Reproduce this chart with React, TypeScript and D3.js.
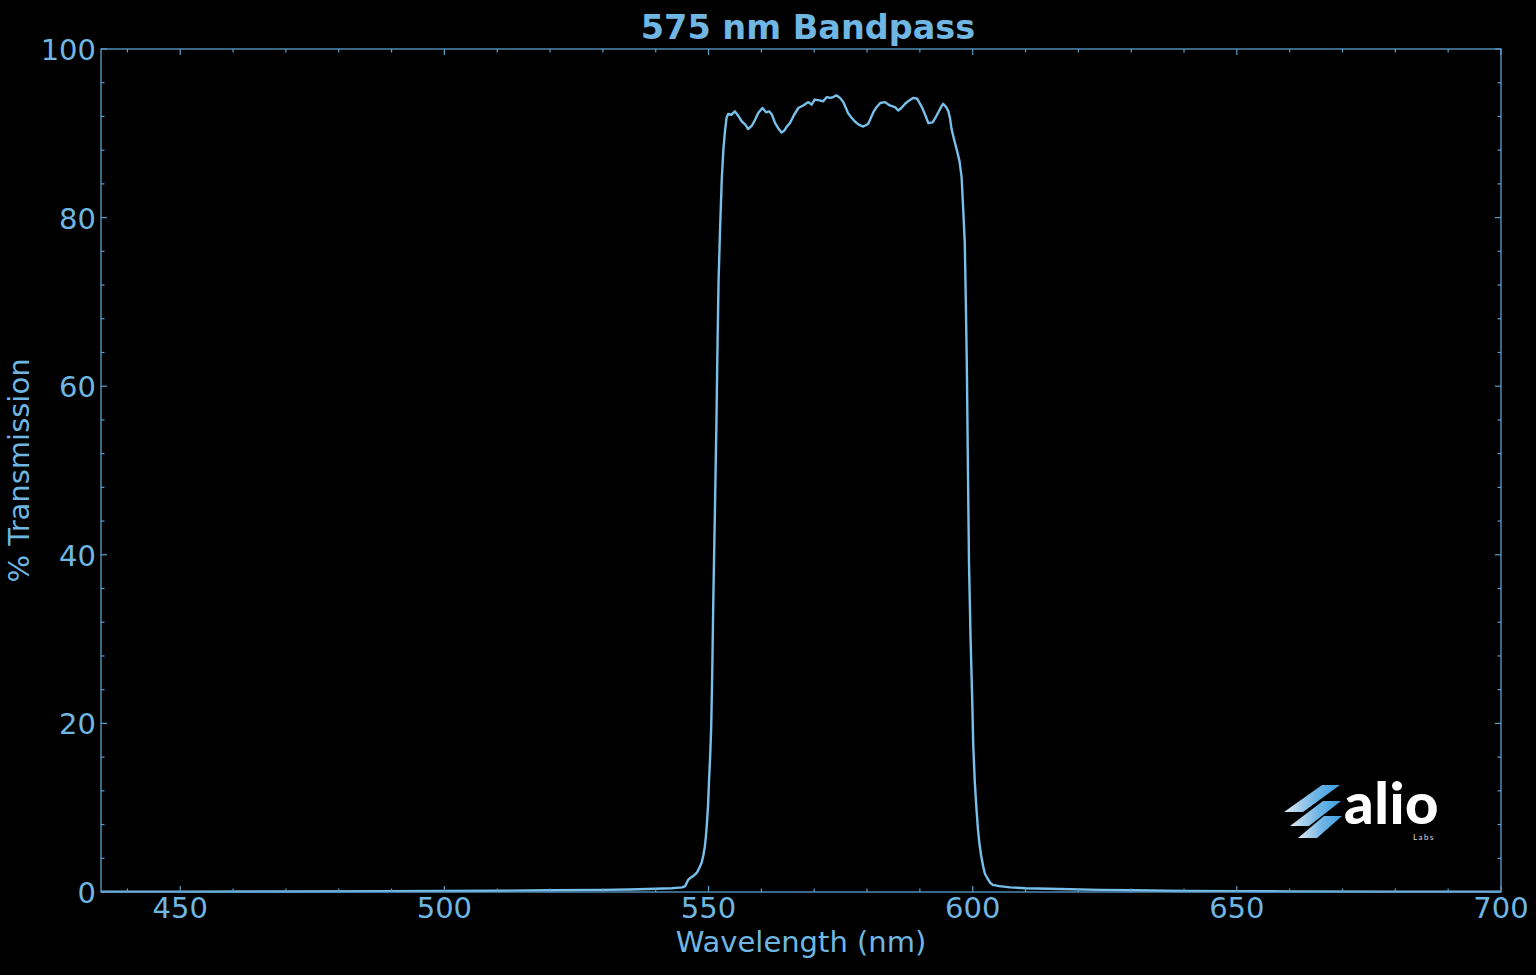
import { useEffect, useRef } from "react";
import * as d3 from "d3";

const WAVELENGTH = [
  435, 450, 470, 490, 500, 510, 520, 530, 535, 540, 543, 545, 545.6, 546.1, 546.6, 547.3, 547.8,
  548.3, 548.7, 549.0, 549.3, 549.5, 549.7, 549.9, 550.1, 550.3, 550.5, 550.7, 550.9, 551.2, 551.5,
  551.7, 551.9, 552.2, 552.5, 552.8, 553.1, 553.4, 553.7, 554.3, 555.0, 555.7, 556.3, 557.0, 557.5,
  558.2, 558.8, 559.4, 560.2, 560.9, 561.5, 562.0, 562.6, 563.2, 563.8, 564.3, 564.8, 565.4, 566.2,
  567.0, 567.9, 568.9, 569.5, 570.1, 571.0, 571.7, 572.4, 573.0, 573.6, 574.2, 574.9, 575.5, 576.0,
  576.4, 577.0, 577.7, 578.5, 579.3, 580.2, 580.7, 581.2, 581.8, 582.5, 583.4, 584.3, 585.3, 585.9,
  586.5, 587.2, 588.0, 588.7, 589.5, 590.3, 591.0, 591.6, 592.4, 593.0, 593.5, 594.0, 594.4, 595.0,
  595.4, 595.7, 596.0, 596.5, 597.0, 597.5, 597.9, 598.2, 598.5, 598.7, 598.9, 599.1, 599.3, 599.6,
  599.9, 600.1, 600.4, 600.7, 601.0, 601.3, 601.6, 602.0, 602.3, 602.8, 603.3, 603.8, 605, 607.1,
  610, 616.5, 624, 630, 640, 650, 660, 680, 700,
];

const TRANSMISSION = [
  0.05, 0.05, 0.06, 0.1, 0.12, 0.15, 0.2, 0.25, 0.3, 0.38, 0.45, 0.55, 0.7, 1.4, 1.7, 2.0, 2.3,
  2.9, 3.5, 4.3, 5.4, 6.6, 8.2, 10.2, 13.3, 16, 19.5, 26, 34.6, 45, 56,
  65, 72.6, 79, 84.5, 88, 90.2, 91.8, 92.3, 92.2, 92.6, 92.0, 91.4, 91.0, 90.5,
  90.9, 91.6, 92.4, 93.0, 92.5, 92.6, 92.2, 91.2, 90.6, 90.1, 90.3, 90.8, 91.2, 92.2,
  93.0, 93.3, 93.7, 93.4, 94.0, 93.9, 93.8, 94.3, 94.2, 94.3, 94.5, 94.2, 93.7, 93.0,
  92.4, 91.9, 91.4, 91.0, 90.8, 91.1, 91.8, 92.5, 93.1, 93.6, 93.7, 93.3, 93.1, 92.7,
  93.0, 93.5, 93.9, 94.2, 94.1, 93.2, 92.2, 91.2, 91.3, 91.9, 92.5, 93.1, 93.5, 93.1,
  92.6, 91.8, 90.5, 89.2, 88.0, 86.7, 84.8, 81, 77, 70, 62, 50, 39, 30,
  23, 17.5, 13, 10, 7.4, 5.6, 4.3, 3.0, 2.2, 1.6, 1.1, 0.85, 0.7, 0.55,
  0.45, 0.35, 0.25, 0.2, 0.12, 0.1, 0.08, 0.05, 0.05,
];

const X_MAJOR = [450, 500, 550, 600, 650, 700];
const Y_MAJOR = [0, 20, 40, 60, 80, 100];

const TITLE = "575 nm Bandpass";
const X_LABEL = "Wavelength (nm)";
const Y_LABEL = "% Transmission";

const LINE_COLOR = "#78bfe9";
const TEXT_COLOR = "#6fb7e2";
const SPINE_COLOR = "#5c9ecb";
const FONT = "'DejaVu Sans', sans-serif";

export default function App() {
  const svgRef = useRef<SVGSVGElement>(null);

  useEffect(() => {
    if (!svgRef.current) return;
    const svg = d3.select(svgRef.current);
    svg.selectAll("*").remove();

    const W = 1536;
    const H = 975;
    const margin = { top: 49, right: 35, bottom: 83, left: 101 };
    const width = W - margin.left - margin.right;
    const height = H - margin.top - margin.bottom;

    svg.attr("width", W).attr("height", H);
    svg.append("rect").attr("width", W).attr("height", H).attr("fill", "#000");

    const g = svg.append("g").attr("transform", `translate(${margin.left},${margin.top})`);

    const x = d3.scaleLinear().domain([435, 700]).range([0, width]);
    const y = d3.scaleLinear().domain([0, 100]).range([height, 0]);

    const data = WAVELENGTH.map((w, i) => ({ w, t: TRANSMISSION[i] }));

    // Spectrum line
    const line = d3.line<{ w: number; t: number }>()
      .x(d => x(d.w))
      .y(d => y(d.t));

    g.append("path")
      .datum(data)
      .attr("fill", "none")
      .attr("stroke", LINE_COLOR)
      .attr("stroke-width", 2.4)
      .attr("stroke-linejoin", "round")
      .attr("d", line);

    // Inward ticks on all four sides
    const xMinor = d3.range(440, 701, 10).filter(v => !X_MAJOR.includes(v));
    const yMinor = d3.range(0, 101, 4).filter(v => !Y_MAJOR.includes(v));
    const ticks = g.append("g").attr("stroke", SPINE_COLOR).attr("stroke-width", 1.2);

    const addX = (vals: number[], len: number) => {
      vals.forEach(v => {
        ticks.append("line").attr("x1", x(v)).attr("x2", x(v)).attr("y1", height).attr("y2", height - len);
        ticks.append("line").attr("x1", x(v)).attr("x2", x(v)).attr("y1", 0).attr("y2", len);
      });
    };
    const addY = (vals: number[], len: number) => {
      vals.forEach(v => {
        ticks.append("line").attr("y1", y(v)).attr("y2", y(v)).attr("x1", 0).attr("x2", len);
        ticks.append("line").attr("y1", y(v)).attr("y2", y(v)).attr("x1", width).attr("x2", width - len);
      });
    };
    addX(X_MAJOR, 6);
    addX(xMinor, 3.5);
    addY(Y_MAJOR, 6);
    addY(yMinor, 3.5);

    // Spines
    g.append("rect")
      .attr("width", width)
      .attr("height", height)
      .attr("fill", "none")
      .attr("stroke", SPINE_COLOR)
      .attr("stroke-width", 1.3);

    // Tick labels
    g.append("g")
      .selectAll("text")
      .data(X_MAJOR)
      .enter()
      .append("text")
      .attr("x", d => x(d))
      .attr("y", height + 26)
      .attr("text-anchor", "middle")
      .attr("fill", TEXT_COLOR)
      .style("font-family", FONT)
      .style("font-size", "29px")
      .text(d => d);

    g.append("g")
      .selectAll("text")
      .data(Y_MAJOR)
      .enter()
      .append("text")
      .attr("x", -5)
      .attr("y", d => y(d) + 11)
      .attr("text-anchor", "end")
      .attr("fill", TEXT_COLOR)
      .style("font-family", FONT)
      .style("font-size", "29px")
      .text(d => d);

    // Axis labels and title
    svg.append("text")
      .attr("x", margin.left + width / 2)
      .attr("y", 952)
      .attr("text-anchor", "middle")
      .attr("fill", TEXT_COLOR)
      .style("font-family", FONT)
      .style("font-size", "29px")
      .text(X_LABEL);

    svg.append("text")
      .attr("transform", `translate(29,${margin.top + height / 2}) rotate(-90)`)
      .attr("text-anchor", "middle")
      .attr("fill", TEXT_COLOR)
      .style("font-family", FONT)
      .style("font-size", "29px")
      .text(Y_LABEL);

    svg.append("text")
      .attr("x", 808)
      .attr("y", 39)
      .attr("text-anchor", "middle")
      .attr("fill", TEXT_COLOR)
      .style("font-family", FONT)
      .style("font-size", "33.5px")
      .style("font-weight", "bold")
      .text(TITLE);

    // alio labs logo
    const defs = svg.append("defs");
    const grad = defs.append("linearGradient")
      .attr("id", "stripe")
      .attr("x1", "0%").attr("x2", "100%").attr("y1", "0%").attr("y2", "0%");
    grad.append("stop").attr("offset", "0%").attr("stop-color", "#dfe9f2");
    grad.append("stop").attr("offset", "55%").attr("stop-color", "#6fb5e6");
    grad.append("stop").attr("offset", "100%").attr("stop-color", "#3f9ee0");

    const logo = svg.append("g");
    const stripes = [
      [[1322, 785], [1340, 785], [1303, 812], [1284, 812]],
      [[1323, 801], [1341, 801], [1309, 826], [1290, 826]],
      [[1324, 816], [1342, 816], [1317, 838], [1298, 838]],
    ];
    stripes.forEach(p => {
      logo.append("polygon")
        .attr("points", p.map(q => q.join(",")).join(" "))
        .attr("fill", "url(#stripe)");
    });
    logo.append("text")
      .attr("x", 1344)
      .attr("y", 824)
      .attr("fill", "#fff")
      .style("font-family", "Lato, sans-serif")
      .style("font-weight", "900")
      .style("font-size", "58px")
      .style("letter-spacing", "0.5px")
      .text("alio");
    logo.append("text")
      .attr("x", 1413)
      .attr("y", 840)
      .attr("fill", "#ddd")
      .style("font-family", "Lato, sans-serif")
      .style("font-size", "8px")
      .style("letter-spacing", "1.5px")
      .text("Labs");
  }, []);

  return (
    <div style={{ position: "fixed", left: 0, top: 0 }}>
      <svg ref={svgRef} style={{ display: "block" }}></svg>
    </div>
  );
}
